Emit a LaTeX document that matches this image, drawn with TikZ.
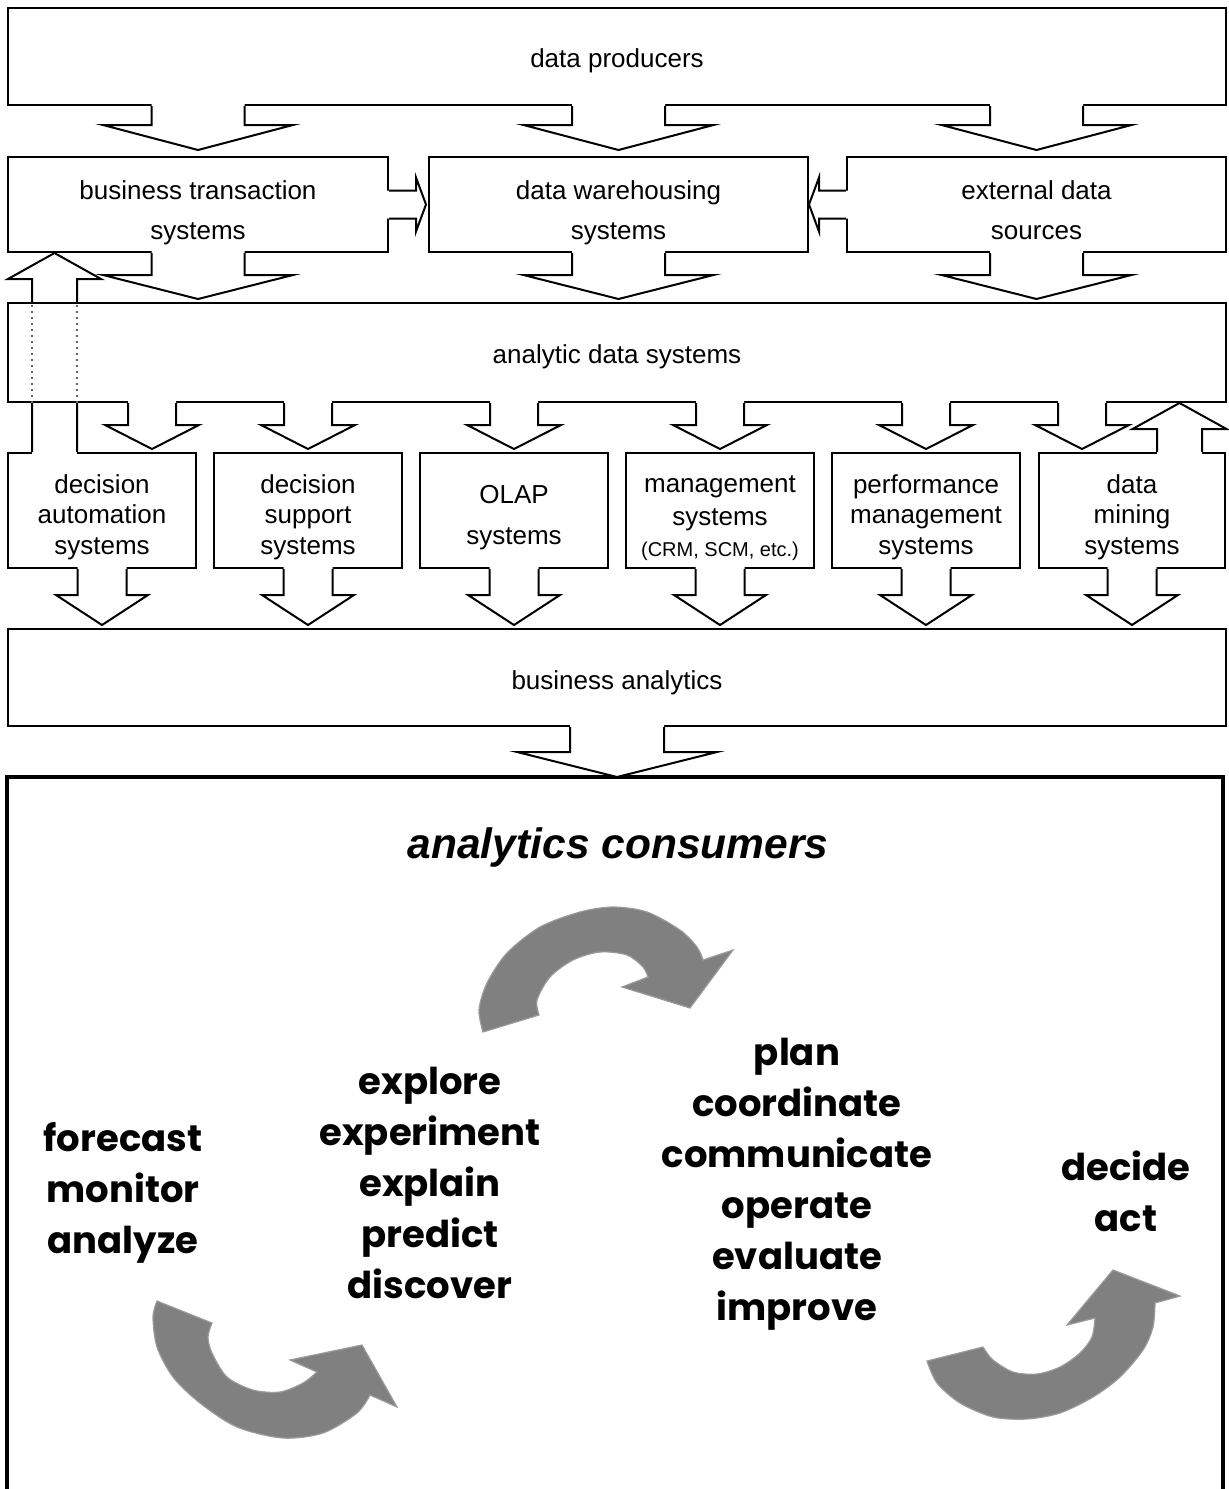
\documentclass[tikz,border=0pt]{standalone}
\usepackage{fontspec}
\setmainfont{Liberation Sans}
\newfontfamily\comicfont{Poppins}
\usepackage{tikz}
\usetikzlibrary{calc}

\definecolor{arrowgray}{RGB}{128,128,128}
\definecolor{rimgray}{RGB}{155,155,155}

% invisible strut that pushes a box text down
\newcommand{\lift}[1]{\rule{0pt}{#1}}

% block arrows: #1 source edge, #2 target edge, #3 gap, #4 half shaft, #5 half head, #6 head length
\newcommand{\blockdown}[6]{%
  \fill[white] let \p1=#1, \p2=#2 in
    (\x2-#4,\y1+1pt) -- (\x2-#4,\y2+#3+#6) -- (\x2-#5,\y2+#3+#6) -- (\x2,\y2+#3)
    -- (\x2+#5,\y2+#3+#6) -- (\x2+#4,\y2+#3+#6) -- (\x2+#4,\y1+1pt) -- cycle;
  \draw let \p1=#1, \p2=#2 in
    (\x2-#4,\y1) -- (\x2-#4,\y2+#3+#6) -- (\x2-#5,\y2+#3+#6) -- (\x2,\y2+#3)
    -- (\x2+#5,\y2+#3+#6) -- (\x2+#4,\y2+#3+#6) -- (\x2+#4,\y1);}
\newcommand{\blockup}[6]{%
  \fill[white] let \p1=#1, \p2=#2 in
    (\x1-#4,\y1-1pt) -- (\x1-#4,\y2-#3-#6) -- (\x1-#5,\y2-#3-#6) -- (\x1,\y2-#3)
    -- (\x1+#5,\y2-#3-#6) -- (\x1+#4,\y2-#3-#6) -- (\x1+#4,\y1-1pt) -- cycle;
  \draw let \p1=#1, \p2=#2 in
    (\x1-#4,\y1) -- (\x1-#4,\y2-#3-#6) -- (\x1-#5,\y2-#3-#6) -- (\x1,\y2-#3)
    -- (\x1+#5,\y2-#3-#6) -- (\x1+#4,\y2-#3-#6) -- (\x1+#4,\y1);}
\newcommand{\blockright}[6]{%
  \fill[white] let \p1=#1, \p2=#2 in
    (\x1-1pt,\y1+#4) -- (\x2-#3-#6,\y1+#4) -- (\x2-#3-#6,\y1+#5) -- (\x2-#3,\y1)
    -- (\x2-#3-#6,\y1-#5) -- (\x2-#3-#6,\y1-#4) -- (\x1-1pt,\y1-#4) -- cycle;
  \draw let \p1=#1, \p2=#2 in
    (\x1,\y1+#4) -- (\x2-#3-#6,\y1+#4) -- (\x2-#3-#6,\y1+#5) -- (\x2-#3,\y1)
    -- (\x2-#3-#6,\y1-#5) -- (\x2-#3-#6,\y1-#4) -- (\x1,\y1-#4);}
\newcommand{\blockleft}[6]{%
  \fill[white] let \p1=#1, \p2=#2 in
    (\x1+1pt,\y1+#4) -- (\x2+#3+#6,\y1+#4) -- (\x2+#3+#6,\y1+#5) -- (\x2+#3,\y1)
    -- (\x2+#3+#6,\y1-#5) -- (\x2+#3+#6,\y1-#4) -- (\x1+1pt,\y1-#4) -- cycle;
  \draw let \p1=#1, \p2=#2 in
    (\x1,\y1+#4) -- (\x2+#3+#6,\y1+#4) -- (\x2+#3+#6,\y1+#5) -- (\x2+#3,\y1)
    -- (\x2+#3+#6,\y1-#5) -- (\x2+#3+#6,\y1-#4) -- (\x1,\y1-#4);}

\begin{document}
\begin{tikzpicture}[x=0.5pt, y=-0.5pt, node distance=103pt, line width=1pt,
    box/.style={rectangle, draw, inner sep=0pt, align=center, font=\fontsize{13}{20}\selectfont},
    wide/.style={box, minimum width=609pt, minimum height=48.5pt},
    tier/.style={box, minimum width=189.5pt, minimum height=47.5pt},
    tool/.style={box, minimum width=94pt, minimum height=57.5pt, font=\fontsize{13}{15.25}\selectfont},
    verbs/.style={align=center, font=\comicfont\bfseries\fontsize{18.5}{25.5}\selectfont},
    swoosh/.style={fill=arrowgray, draw=rimgray, line width=0.6pt}]
    \useasboundingbox (0,0) rectangle (1228,1489);

    \node[wide] (prod) at (617,56.5) {\lift{13.5pt}data producers};
    \node[tier, minimum width=190pt] (bts) at (198,204.5) {\lift{17.5pt}business transaction\\systems};
    \node[tier] (dws) at (618.5,204.5) {\lift{17.5pt}data warehousing\\systems};
    \node[tier] (eds) at (1036.5,204.5) {\lift{15.5pt}external data\\sources};
    \node[wide, minimum height=49.5pt] (ads) at (617,352.5) {\lift{13.5pt}analytic data systems};
    \node[tool] (das) at (102,510.5) {\lift{16pt}decision\\automation\\systems};
    \node[tool] (dss) [right of=das] {\lift{16pt}decision\\support\\systems};
    \node[tool, font=\fontsize{13}{20.5}\selectfont] (olap) [right of=dss] {\lift{16pt}OLAP\\systems};
    \node[tool] (mgs) [right of=olap] {\lift{16pt}management\\[1.5pt]systems\\{\fontsize{10}{12}\selectfont(CRM, SCM, etc.)}};
    \node[tool] (pms) [right of=mgs] {\lift{16pt}performance\\management\\systems};
    \node[tool, minimum width=93pt] (dms) [right of=pms] {\lift{16pt}data\\mining\\systems};
    \node[wide] (ba) at (617,677.5) {\lift{14.5pt}business analytics};

    % consumers frame, open at the bottom
    \draw[line width=1.6pt] (7,1489) -- (7,777) -- (1223,777) -- (1223,1489);
    \coordinate (constop) at (617,777);
    \node[font=\fontsize{21.25}{25}\selectfont\bfseries\itshape] (title) at (618,848) {analytics consumers};

    \node[verbs] (watch) at (123,1193) {forecast\\monitor\\analyze};
    \node[verbs] (probe) at (430,1182.5) {explore\\experiment\\explain\\predict\\discover};
    \node[verbs] (run) at (797,1184) {plan\\coordinate\\communicate\\operate\\evaluate\\improve};
    \node[verbs] (act) at (1126,1191) {decide\\act};

    % sources
    \foreach \b in {bts,dws,eds} {
        \blockdown{(prod.south)}{(\b.north)}{3pt}{23.25pt}{47.5pt}{12.5pt}
        \blockdown{(\b.south)}{(\b.south |- ads.north)}{1.5pt}{23.25pt}{47.5pt}{12pt}
    }
    \blockright{(bts.east)}{(dws.west)}{1pt}{7pt}{13.5pt}{5pt}
    \blockleft{(eds.west)}{(dws.east)}{0pt}{7pt}{13.5pt}{5pt}

    % analytic data to the tools
    \blockdown{(ads.south)}{([xshift=25pt]das.north)}{1.5pt}{12pt}{23.5pt}{12pt}
    \foreach \b in {dss,olap,mgs,pms} {
        \blockdown{(ads.south)}{(\b.north)}{1.5pt}{12pt}{23.5pt}{12pt}
    }
    \blockdown{(ads.south)}{([xshift=-25pt]dms.north)}{1.5pt}{12pt}{23.5pt}{12pt}
    \blockup{([xshift=23.75pt]dms.north)}{(ads.south)}{0pt}{11.25pt}{23.5pt}{13pt}

    % decision automation back to the transaction systems
    \fill[white] ([xshift=-35pt,yshift=-1pt]das.north) rectangle ([xshift=-12.5pt,yshift=1pt]das.north);
    \draw let \p1=([xshift=-23.75pt]das.north), \p2=(ads.south), \p3=(ads.north), \p4=(bts.south) in
        (\x1-11.25pt,\y1) -- (\x1-11.25pt,\y2) (\x1+11.25pt,\y1) -- (\x1+11.25pt,\y2)
        (\x1-11.25pt,\y3) -- (\x1-11.25pt,\y4-13pt) -- (\x1-23.25pt,\y4-13pt) -- (\x1,\y4)
        -- (\x1+23.25pt,\y4-13pt) -- (\x1+11.25pt,\y4-13pt) -- (\x1+11.25pt,\y3);
    \draw[black!60, dotted, line width=1pt] let \p1=([xshift=-23.75pt]das.north), \p2=(ads.south), \p3=(ads.north) in
        (\x1-11.25pt,\y2) -- (\x1-11.25pt,\y3) (\x1+11.25pt,\y2) -- (\x1+11.25pt,\y3);

    % tools to business analytics
    \foreach \b in {das,dss,olap,mgs,pms,dms} {
        \blockdown{(\b.south)}{(\b.south |- ba.north)}{1.5pt}{12.25pt}{23pt}{15pt}
    }
    \blockdown{(ba.south)}{(constop)}{0pt}{23.5pt}{50pt}{12.5pt}

    % curved arrows
    \filldraw[swoosh] plot[smooth] coordinates {(483,1032) (479,1010) (487,983) (507,953) (540,927) (580,912) (613,907) (647,912) (680,930) (697,947) (703,960)}
        -- (733,950) -- (690,1008) -- (622,987)
        -- plot[smooth] coordinates {(648,977) (643,967) (627,955) (600,952) (573,960) (550,977) (537,1000) (539,1015)} -- cycle;
    \filldraw[swoosh] plot[smooth] coordinates {(157,1301) (153,1317) (157,1347) (173,1377) (200,1403) (237,1427) (283,1438) (323,1433) (357,1413) (370,1395)}
        -- (397,1407) -- (362,1345) -- (290,1360)
        -- plot[smooth] coordinates {(317,1372) (303,1383) (280,1392) (253,1390) (227,1377) (212,1353) (208,1337) (212,1323)} -- cycle;
    \filldraw[swoosh] plot[smooth] coordinates {(927,1361) (937,1383) (960,1403) (993,1417) (1027,1419) (1060,1413) (1093,1397) (1120,1377) (1143,1350) (1153,1327) (1155,1303)}
        -- (1180,1296) -- (1113,1270) -- (1067,1325)
        -- plot[smooth] coordinates {(1095,1318) (1092,1337) (1080,1353) (1060,1367) (1037,1374) (1013,1372) (993,1360) (985,1350) (983,1347)} -- cycle;
\end{tikzpicture}
\end{document}
